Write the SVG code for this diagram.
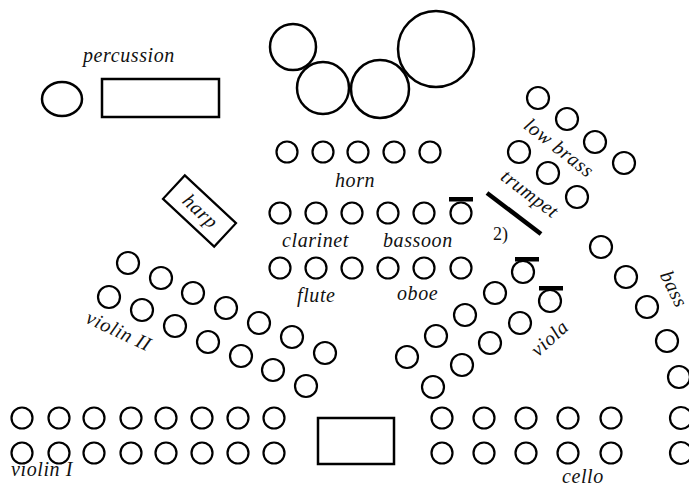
<svg xmlns="http://www.w3.org/2000/svg" width="689" height="487" viewBox="0 0 689 487">
<style>
.s{fill:none;stroke:#000;stroke-width:2.2}
.t{fill:none;stroke:#000;stroke-width:2.5}
.l{font-family:"Liberation Serif","Times New Roman",serif;font-style:italic;font-size:20px;fill:#111;letter-spacing:0.6px}
.n{font-family:"Liberation Serif","Times New Roman",serif;font-size:18px;fill:#111}
</style>
<defs>
<circle id="c" r="10.5" class="s"/>
<circle id="cb" r="11" class="s"/>
<rect id="bar" x="-12" y="-2" width="24" height="4.5" fill="#000"/>
</defs>
<g id="percussion">
<ellipse cx="62" cy="99" rx="20" ry="17" class="t"/>
<rect x="102" y="79" width="117" height="38" class="t"/>
<text x="83" y="62" class="l">percussion</text>
</g>
<g id="timpani">
<circle cx="293" cy="47" r="23" class="t"/>
<circle cx="323" cy="88" r="26" class="t"/>
<circle cx="380" cy="89" r="29" class="t"/>
<circle cx="436" cy="49" r="38" class="t"/>
</g>
<g id="horn">
<use href="#c" x="287" y="152"/><use href="#c" x="323" y="152"/><use href="#c" x="358" y="152"/><use href="#c" x="394" y="152"/><use href="#c" x="430" y="152"/>
<text x="335" y="187" class="l">horn</text>
</g>
<g id="clarinet">
<use href="#c" x="280" y="213"/><use href="#c" x="316" y="213"/><use href="#c" x="352" y="213"/>
<text x="282" y="247" class="l">clarinet</text>
</g>
<g id="bassoon">
<use href="#c" x="388" y="213"/><use href="#c" x="424" y="213"/><use href="#c" x="461" y="213"/>
<use href="#bar" x="461" y="199"/>
<text x="383" y="247" class="l">bassoon</text>
</g>
<g id="flute">
<use href="#c" x="280" y="268"/><use href="#c" x="316" y="268"/><use href="#c" x="352" y="268"/>
<text x="297" y="302" class="l">flute</text>
</g>
<g id="oboe">
<use href="#c" x="388" y="268"/><use href="#c" x="424" y="268"/><use href="#c" x="461" y="268"/>
<text x="397" y="300" class="l">oboe</text>
</g>
<g id="harp">
<rect x="-35" y="-16" width="70" height="32" class="s" transform="translate(199.5 211) rotate(43)"/>
<text class="l" text-anchor="middle" transform="translate(196 216) rotate(43)">harp</text>
</g>
<g id="low-brass">
<use href="#cb" x="538" y="98"/><use href="#cb" x="567" y="119"/><use href="#cb" x="595" y="142"/><use href="#cb" x="624" y="163"/>
<text class="l" text-anchor="middle" transform="translate(555 153) rotate(38)">low brass</text>
</g>
<g id="trumpet">
<use href="#cb" x="519" y="152"/><use href="#cb" x="548" y="173"/><use href="#cb" x="577" y="197"/>
<text class="l" text-anchor="middle" transform="translate(526 199) rotate(37)">trumpet</text>
<line x1="487" y1="193" x2="541" y2="234" stroke="#000" stroke-width="4.5"/>
<text x="493" y="240" class="n">2)</text>
</g>
<g id="violin-II">
<use href="#cb" x="128" y="263"/><use href="#cb" x="161" y="278"/><use href="#cb" x="193" y="293"/><use href="#cb" x="226" y="308"/><use href="#cb" x="259" y="323"/><use href="#cb" x="292" y="337"/><use href="#cb" x="325" y="353"/>
<use href="#cb" x="109" y="297"/><use href="#cb" x="142" y="310"/><use href="#cb" x="175" y="326"/><use href="#cb" x="208" y="342"/><use href="#cb" x="241" y="356"/><use href="#cb" x="273" y="370"/><use href="#cb" x="306" y="386"/>
<text class="l" text-anchor="middle" transform="translate(116 337) rotate(25)">violin II</text>
</g>
<g id="viola">
<use href="#cb" x="523" y="272"/><use href="#bar" x="527" y="259"/>
<use href="#cb" x="550" y="301"/><use href="#bar" x="551" y="288"/>
<use href="#cb" x="495" y="293"/><use href="#cb" x="465" y="315"/><use href="#cb" x="436" y="336"/><use href="#cb" x="407" y="357"/>
<use href="#cb" x="520" y="323"/><use href="#cb" x="490" y="343"/><use href="#cb" x="462" y="365"/><use href="#cb" x="433" y="387"/>
<text class="l" text-anchor="middle" transform="translate(554 343) rotate(-42)">viola</text>
</g>
<g id="bass">
<use href="#cb" x="601" y="247"/><use href="#cb" x="626" y="277"/><use href="#cb" x="647" y="307"/><use href="#cb" x="667" y="341"/><use href="#cb" x="679" y="377"/><use href="#cb" x="681" y="418"/><use href="#cb" x="681" y="453"/>
<text class="l" text-anchor="middle" transform="translate(668 292) rotate(63)">bass</text>
</g>
<g id="violin-I">
<use href="#c" x="22" y="418"/><use href="#c" x="59" y="418"/><use href="#c" x="94" y="418"/><use href="#c" x="131" y="418"/><use href="#c" x="166" y="418"/><use href="#c" x="202" y="418"/><use href="#c" x="238" y="418"/><use href="#c" x="274" y="418"/>
<use href="#c" x="22" y="453"/><use href="#c" x="59" y="453"/><use href="#c" x="94" y="453"/><use href="#c" x="131" y="453"/><use href="#c" x="166" y="453"/><use href="#c" x="202" y="453"/><use href="#c" x="238" y="453"/><use href="#c" x="274" y="453"/>
<text x="11" y="476" class="l">violin I</text>
</g>
<g id="conductor">
<rect x="318" y="418" width="76" height="46" class="t"/>
</g>
<g id="cello">
<use href="#c" x="442" y="418"/><use href="#c" x="484" y="418"/><use href="#c" x="526" y="418"/><use href="#c" x="568" y="418"/><use href="#c" x="611" y="418"/>
<use href="#c" x="442" y="453"/><use href="#c" x="484" y="453"/><use href="#c" x="526" y="453"/><use href="#c" x="568" y="453"/><use href="#c" x="611" y="453"/>
<text x="562" y="483" class="l">cello</text>
</g>
<g id="connectors"/>
</svg>
